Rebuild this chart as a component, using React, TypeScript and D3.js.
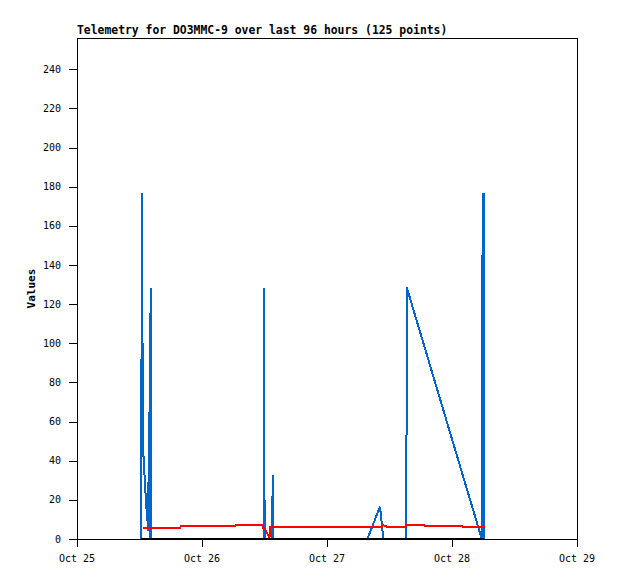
import React from "react";
import * as d3 from "d3";

const title = "Telemetry for DO3MMC-9 over last 96 hours (125 points)";
const yLabel = "Values";
const startDate = new Date(2024, 9, 25);
const endDate = new Date(2024, 9, 29);
const yMax = 256;
const yTicks = [0, 20, 40, 60, 80, 100, 120, 140, 160, 180, 200, 220, 240];

// hours since Oct 25 00:00
const blueHours = [12.33, 12.44, 12.6, 12.71, 12.86, 12.98, 13.13, 13.29, 13.52, 13.67, 13.82, 13.98, 14.13, 14.25,
  35.83, 35.9, 36.02, 37.48, 37.57, 37.67,
  55.74, 58.18, 58.81, 63.23, 63.32, 77.72, 77.84, 77.93, 78.05, 78.14];
const blueValues = [0, 177, 89, 45, 38, 32, 25, 17, 10, 4, 65, 0, 128.5, 0,
  0, 128.5, 0, 0, 32.7, 0,
  0, 16.5, 0, 0, 128.5, 0, 145, 89, 177, 0];

const redHours = [12.67, 19.78, 19.97, 30.34, 30.53, 35.6, 35.75, 36.0, 36.95, 37.1, 56.26, 58.37, 58.75, 59.33, 59.71,
  63.17, 63.36, 66.62, 66.82, 73.92, 74.11, 78.34];
const redValues = [5.8, 5.8, 6.5, 6.5, 7.1, 7.1, 5.6, 5.6, 0.5, 6.1, 6.1, 6.1, 7.1, 6.5, 6.1,
  6.1, 7.3, 7.3, 6.5, 6.5, 6.0, 6.0];

const blackHours = [12.3, 78.2];
const blackValues = [0, 0];

const W = 618, H = 579;
const L = 77, R = 577, T = 38, B = 539;

const toDate = (h: number) => new Date(startDate.getTime() + h * 3600 * 1000);

export default function App() {
  const x = d3.scaleTime().domain([startDate, endDate]).range([L, R]);
  const y = d3.scaleLinear().domain([0, yMax]).range([B, T]);
  const line = d3
    .line<[number, number]>()
    .x((d) => x(toDate(d[0])))
    .y((d) => y(d[1]));
  const zip = (a: number[], b: number[]) => a.map((h, i) => [h, b[i]] as [number, number]);
  const xTicks = d3.timeDay.range(startDate, d3.timeDay.offset(endDate, 1));
  const fmt = d3.timeFormat("%b %d");
  const font = "'DejaVu Sans Mono', monospace";

  return (
    <svg width={W} height={H} style={{ position: "absolute", left: 0, top: 0, background: "#fff" }}>
      <rect x={0} y={0} width={W} height={H} fill="#fff" />
      <text x={L} y={34} fontFamily={font} fontWeight="bold" fontSize={11.4} fill="#000">
        {title}
      </text>
      <g fill="none" strokeWidth={2} strokeLinejoin="miter" shapeRendering="crispEdges">
        <path d={line(zip(blueHours, blueValues)) || ""} stroke="#0066cc" />
        <path d={line(zip(redHours, redValues)) || ""} stroke="#ff0000" />
        <path d={line(zip(blackHours, blackValues)) || ""} stroke="#000" strokeWidth={2.5} />
      </g>
      <g stroke="#000" strokeWidth={1} shapeRendering="crispEdges" fill="none">
        <rect x={L + 0.5} y={T + 0.5} width={R - L} height={B - T} />
        {yTicks.map((t) => (
          <line key={"y" + t} x1={L - 8} x2={L} y1={Math.round(y(t)) + 0.5} y2={Math.round(y(t)) + 0.5} />
        ))}
        {xTicks.map((d, i) => (
          <line key={"x" + i} x1={Math.round(x(d)) + 0.5} x2={Math.round(x(d)) + 0.5} y1={B} y2={B + 8} />
        ))}
      </g>
      <g fontFamily={font} fontSize={10} fill="#000">
        {yTicks.map((t) => (
          <text key={"yl" + t} x={61} y={y(t)} dy="0.35em" textAnchor="end">
            {t}
          </text>
        ))}
        {xTicks.map((d, i) => (
          <text key={"xl" + i} x={x(d)} y={562} textAnchor="middle">
            {fmt(d)}
          </text>
        ))}
      </g>
      <text
        transform={`translate(35, ${(T + B) / 2}) rotate(-90)`}
        fontFamily={font}
        fontWeight="bold"
        fontSize={11}
        textAnchor="middle"
        fill="#000"
      >
        {yLabel}
      </text>
    </svg>
  );
}
